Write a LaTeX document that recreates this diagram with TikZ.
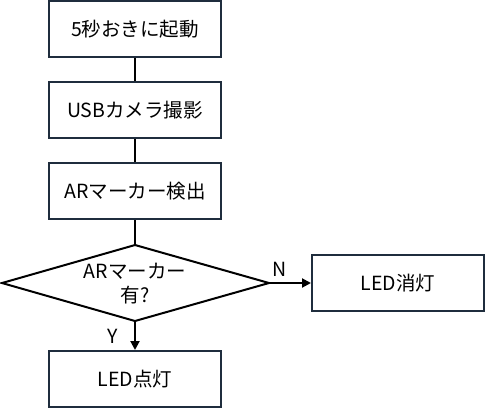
\documentclass[tikz,border=0pt]{standalone}
\usepackage{fontspec}
\setmainfont{Noto Sans CJK JP}
\usetikzlibrary{arrows.meta}
\definecolor{boxline}{HTML}{1F2D3D}
\begin{document}
\begin{tikzpicture}[x=1pt,y=-1pt,
  stepbox/.style={draw=boxline,line width=2pt,fill=white,minimum width=172pt,minimum height=56pt,inner sep=0pt,font=\fontsize{19.5}{23}\selectfont},
  conn/.style={draw=black,line width=2pt},
  arr/.style={conn,-{Triangle[length=9pt,width=9pt]}},
  lbl/.style={font=\fontsize{19.5}{23}\selectfont,inner sep=0pt}]
\useasboundingbox (0,0) rectangle (485,408);
\node[stepbox] (s1) at (135,29) {5秒おきに起動};
\node[stepbox] (s2) at (135,110) {USBカメラ撮影};
\node[stepbox] (s3) at (135,191) {ARマーカー検出};
\coordinate (dt) at (135,245);
\coordinate (db) at (135,321);
\coordinate (dl) at (2,283);
\coordinate (dr) at (269,283);
\draw[line width=2pt,fill=white] (dt) -- (dr) -- (db) -- (dl) -- cycle;
\node[lbl,align=center] (dq) at (135,284) {ARマーカー\\[1pt]有?};
\node[stepbox] (no) at (398,283) {LED消灯};
\node[stepbox] (yes) at (135,379) {LED点灯};
\draw[conn] (s1) -- (s2);
\draw[conn] (s2) -- (s3);
\draw[conn] (s3) -- (dt);
\draw[arr] (dr) -- (no.west);
\draw[arr] (db) -- (yes.north);
\node[lbl] (nl) at (280,269) {N};
\node[lbl] (yl) at (113,336) {Y};
\end{tikzpicture}
\end{document}
